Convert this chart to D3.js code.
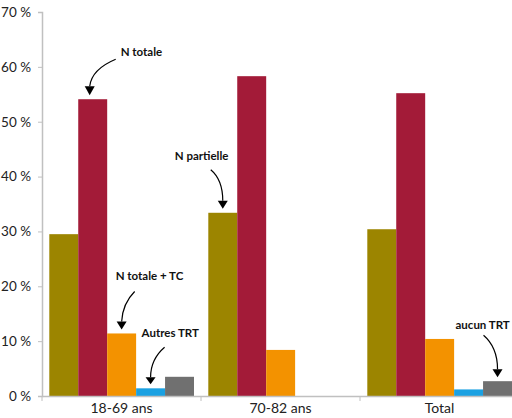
<!DOCTYPE html>
<html><head><meta charset="utf-8">
<script src="https://cdn.jsdelivr.net/npm/d3@7"></script>
<style>body{margin:0;background:#fff}svg{display:block}</style>
</head><body><svg id="c" width="512" height="418"></svg>
<script>
const categories = ["18-69 ans", "70-82 ans", "Total"];
const seriesNames = ["N partielle", "N totale", "N totale + TC", "Autres TRT", "aucun TRT"];
const seriesColors = ["#9c8500", "#a31b38", "#f39200", "#1ba1e2", "#707070"];
const vPartielle = [29.5, 33.4, 30.4];
const vTotale = [54.1, 58.3, 55.2];
const vTotaleTC = [11.4, 8.4, 10.4];
const vAutres = [1.4, 0, 1.2];
const vAucun = [3.5, 0, 2.7];
const yTicks = [0, 10, 20, 30, 40, 50, 60, 70];
const annotationLabels = ["N totale", "N partielle", "N totale + TC", "Autres TRT", "aucun TRT"];
const annotationCats = ["18-69 ans", "70-82 ans", "18-69 ans", "18-69 ans", "Total"];

const values = [vPartielle, vTotale, vTotaleTC, vAutres, vAucun];
const svg = d3.select("#c");
const font = "Lato, 'Open Sans', sans-serif";

const x = d3.scaleBand().domain(categories).range([42, 519]).padding(0);
const xi = d3.scaleBand().domain(seriesNames).range([7.3, 152]).padding(0);
const y = d3.scaleLinear().domain([0, 70]).range([396, 12]);

// bars
categories.forEach((c, ci) => {
  seriesNames.forEach((s, si) => {
    const v = values[si][ci];
    if (v <= 0) return;
    svg.append("rect")
      .attr("x", x(c) + xi(s))
      .attr("y", y(v))
      .attr("width", xi.bandwidth())
      .attr("height", y(0) - y(v))
      .attr("fill", seriesColors[si]);
  });
});

// y axis
const yAxis = svg.append("g").attr("transform", "translate(42,0)")
  .call(d3.axisLeft(y).tickValues(yTicks).tickSize(4).tickPadding(7).tickFormat(d => d + " %"));
yAxis.select(".domain").attr("stroke", "#c0c0c0").attr("stroke-width", 1.5);
yAxis.selectAll(".tick line").attr("stroke", "#c0c0c0");
yAxis.selectAll("text").attr("font-family", font).attr("font-size", 13.5).attr("fill", "#222");

// x axis
const xAxis = svg.append("g").attr("transform", "translate(0,396)")
  .call(d3.axisBottom(x).tickSize(0).tickPadding(7));
xAxis.select(".domain").attr("stroke", "#c0c0c0").attr("stroke-width", 1.5);
xAxis.selectAll("text").attr("font-family", font).attr("font-size", 14).attr("fill", "#222");
// boundary ticks
svg.append("g").selectAll("line").data(categories).join("line")
  .attr("x1", d => x(d)).attr("x2", d => x(d))
  .attr("y1", 396).attr("y2", 401).attr("stroke", "#c0c0c0");

// annotations
const barCenter = (cat, s) => x(cat) + xi(s) + xi.bandwidth() / 2;
const layout = [
  {tx: 31, ty: -39, sx: 26, sy: -36, cx: 2, cy: -26, ey: -9, dx0: -3},
  {tx: -48, ty: -49, sx: -12, sy: -39, cx: 0, cy: -29, ey: -8, dx0: 0},
  {tx: -6, ty: -49, sx: 13, sy: -38, cx: 1, cy: -26, ey: -8, dx0: 0},
  {tx: -9, ty: -47, sx: 14, sy: -37, cx: 0, cy: -25, ey: -7, dx0: 0},
  {tx: -42, ty: -48, sx: -14, sy: -42, cx: 0, cy: -30, ey: -8, dx0: 0}
];
annotationLabels.forEach((lab, i) => {
  const si = seriesNames.indexOf(lab);
  const ci = categories.indexOf(annotationCats[i]);
  const L = layout[i];
  const tipX = barCenter(annotationCats[i], lab) + L.dx0;
  const tipY = y(values[si][ci]) - 4;
  const ey = tipY + L.ey;
  svg.append("path")
    .attr("d", `M${tipX + L.sx},${tipY + L.sy} Q${tipX + L.cx},${tipY + L.cy} ${tipX},${ey}`)
    .attr("fill", "none").attr("stroke", "#000").attr("stroke-width", 1.2);
  svg.append("path")
    .attr("d", `M${tipX - 5},${ey} L${tipX + 5},${ey} L${tipX},${tipY} Z`)
    .attr("fill", "#000");
  svg.append("text")
    .attr("x", tipX + L.tx).attr("y", tipY + L.ty)
    .attr("font-family", font).attr("font-size", 11.5).attr("font-weight", "bold")
    .attr("fill", "#111").text(lab);
});
</script></body></html>
